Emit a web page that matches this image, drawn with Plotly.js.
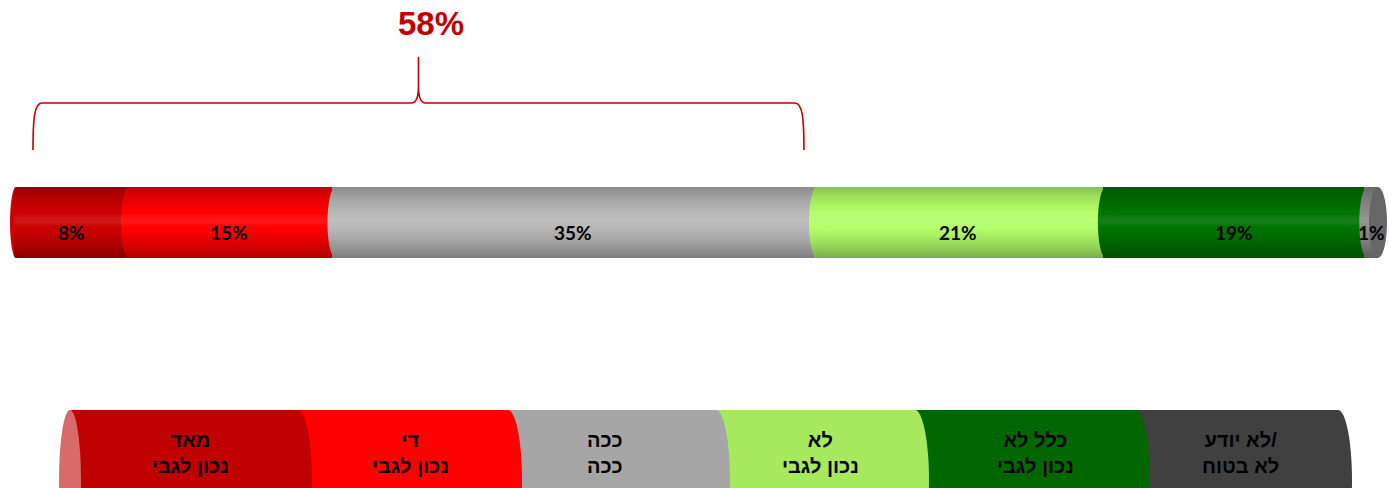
<!DOCTYPE html>
<html>
<head>
<meta charset="utf-8">
<script src="https://cdn.plot.ly/plotly-3.0.1.min.js"></script>
<style>html,body{margin:0;padding:0;background:#fff;}#chart{width:1389px;height:488px;}</style>
</head>
<body>
<div id="chart"></div>
<script>
// ---- data ----
const categories = ['מאד<br>נכון לגבי', 'די<br>נכון לגבי', 'ככה<br>ככה', 'לא<br>נכון לגבי', 'כלל לא<br>נכון לגבי', 'לא יודע/<br>לא בטוח'];
const values = [8, 15, 35, 21, 19, 1];
const bracketCount = 3; // first three categories summed by the brace
const barColors = ['#CC0000', '#FF0000', '#B8B8B8', '#B4FF6A', '#007400', '#8C8C8C'];
const legendColors = ['#C00000', '#FF0000', '#A6A6A6', '#A6E85E', '#006600', '#404040'];

// ---- layout constants (pixels) ----
const W = 1389, H = 488;
const barLeftPx = 16, barRightPx = 1378, barTopPx = 187, barBottomPx = 258;
const padL = 8, padR = 11;
const legendEdgesPx = [70, 298, 508, 716, 915, 1136, 1338];
const legendLabelXPx = [190, 410, 605, 820, 1035, 1240];
const legTop = 410, legCy = 480, legRy = 70, legRx = 14;

const px = x => x / W;
const py = y => 1 - y / H;

const total = values.reduce((a, b) => a + b, 0);
const cum = [];
values.reduce((a, v, i) => { cum[i] = a; return a + v; }, 0);
const bracketSum = values.slice(0, bracketCount).reduce((a, b) => a + b, 0);
const unitPx = (barRightPx - barLeftPx) / total;
const u = p => p / unitPx; // pixels -> data units

const traces = values.map((v, i) => ({
  type: 'bar', orientation: 'h', y: [0], x: [v], width: 1,
  marker: {color: barColors[i], line: {width: 0}},
  hoverinfo: 'skip', showlegend: false
}));

const shapes = [];
// left end cap
shapes.push({type: 'circle', xref: 'x', yref: 'y', x0: -u(6), x1: u(6), y0: -0.5, y1: 0.5,
  fillcolor: barColors[0], line: {width: 0}});
// segment caps (each segment's left edge bulges into the previous)
for (let i = 1; i < values.length; i++) {
  const b = cum[i];
  shapes.push({type: 'circle', xref: 'x', yref: 'y', x0: b - u(5), x1: b + u(11), y0: -0.5, y1: 0.5,
    fillcolor: barColors[i], line: {width: 0}});
}
// cylinder shading: thin bands approximating a vertical gradient
const nb = 36;
for (let j = 0; j < nb; j++) {
  const t = (j + 0.5) / nb; // 0 = top, 1 = bottom
  let col;
  if (t < 0.38) {
    const a = 0.24 * Math.pow(1 - t / 0.38, 1.4);
    col = `rgba(0,0,0,${a.toFixed(3)})`;
  } else if (t < 0.56) {
    const a = 0.09 * Math.sin(Math.PI * (t - 0.38) / 0.18);
    col = `rgba(255,255,255,${a.toFixed(3)})`;
  } else {
    const a = 0.32 * Math.pow((t - 0.56) / 0.44, 1.3);
    col = `rgba(0,0,0,${a.toFixed(3)})`;
  }
  const yTop = 0.5 - j / nb, yBot = 0.5 - (j + 1) / nb;
  shapes.push({type: 'rect', xref: 'x', yref: 'y', x0: -u(2), x1: total, y0: yBot, y1: yTop,
    fillcolor: col, line: {width: 0}});
}
// right end face
shapes.push({type: 'circle', xref: 'x', yref: 'y', x0: total - u(9), x1: total + u(9), y0: -0.5, y1: 0.5,
  fillcolor: '#666666', line: {width: 0}});

// brace over first categories
const x0 = u(17), x1 = bracketSum - u(10), xm = (x0 + x1) / 2;
const yb = py(150), yh = py(103), yc = py(86), yt = py(57);
const bracePath =
  `M ${x0},${yb} C ${x0},${yh - 0.03} ${x0 + u(1.5)},${yh} ${x0 + u(9)},${yh} L ${xm - u(7)},${yh} ` +
  `C ${xm - u(2)},${yh} ${xm},${yh + 0.01} ${xm},${yc} L ${xm},${yt} ` +
  `M ${x1},${yb} C ${x1},${yh - 0.03} ${x1 - u(1.5)},${yh} ${x1 - u(9)},${yh} L ${xm + u(7)},${yh} ` +
  `C ${xm + u(2)},${yh} ${xm},${yh + 0.01} ${xm},${yc}`;
shapes.push({type: 'path', xref: 'x', yref: 'paper', path: bracePath, line: {color: '#C00000', width: 1.6}});

// legend cylinder (draw right-to-left so each right bulge covers the next)
const k = 0.5523;
for (let i = categories.length - 1; i >= 0; i--) {
  const xa = legendEdgesPx[i], xb = legendEdgesPx[i + 1];
  const B = legCy + legRy;
  const p = [
    `M ${px(xa)},${py(legTop)}`,
    `L ${px(xb)},${py(legTop)}`,
    `C ${px(xb + k * legRx)},${py(legTop)} ${px(xb + legRx)},${py(legCy - k * legRy)} ${px(xb + legRx)},${py(legCy)}`,
    `C ${px(xb + legRx)},${py(legCy + k * legRy)} ${px(xb + k * legRx)},${py(B)} ${px(xb)},${py(B)}`,
    `L ${px(xa)},${py(B)} Z`
  ].join(' ');
  shapes.push({type: 'path', xref: 'paper', yref: 'paper', path: p, fillcolor: legendColors[i], line: {width: 0}});
}
// legend left end face
shapes.push({type: 'circle', xref: 'paper', yref: 'paper',
  x0: px(legendEdgesPx[0] - 11), x1: px(legendEdgesPx[0] + 11), y0: py(legCy + legRy), y1: py(legTop),
  fillcolor: '#D96A6A', line: {width: 0}});

const annotations = [];
values.forEach((v, i) => annotations.push({
  xref: 'x', yref: 'y', x: cum[i] + v / 2, y: 0, yshift: -10, showarrow: false,
  text: v + '%', font: {family: 'Lato, Open Sans, sans-serif', size: 19, color: '#000', weight: 'bold'}
}));
categories.forEach((c, i) => annotations.push({
  xref: 'paper', yref: 'paper', x: px(legendLabelXPx[i]), y: py(453), xanchor: 'center', yanchor: 'middle',
  showarrow: false, text: c, align: 'center',
  font: {family: 'Liberation Sans, Arial, sans-serif', size: 20, color: '#000', weight: 'bold'}
}));

const layout = {
  width: W, height: H,
  margin: {l: 0, r: 0, t: 0, b: 0},
  paper_bgcolor: '#fff', plot_bgcolor: 'rgba(0,0,0,0)',
  barmode: 'stack', bargap: 0,
  showlegend: false,
  title: {text: bracketSum + '%', xref: 'container', yref: 'container', x: px(431), y: py(23),
    xanchor: 'center', yanchor: 'middle',
    font: {family: 'Liberation Sans, Arial, sans-serif', size: 33, color: '#C00000', weight: 'bold'}},
  xaxis: {domain: [px(barLeftPx - padL), px(barRightPx + padR)], range: [-u(padL), total + u(padR)],
    visible: false, fixedrange: true},
  yaxis: {domain: [py(barBottomPx), py(barTopPx)], range: [-0.5, 0.5], visible: false, fixedrange: true},
  shapes: shapes,
  annotations: annotations
};

Plotly.newPlot('chart', traces, layout, {staticPlot: true, displayModeBar: false});
</script>
</body>
</html>
